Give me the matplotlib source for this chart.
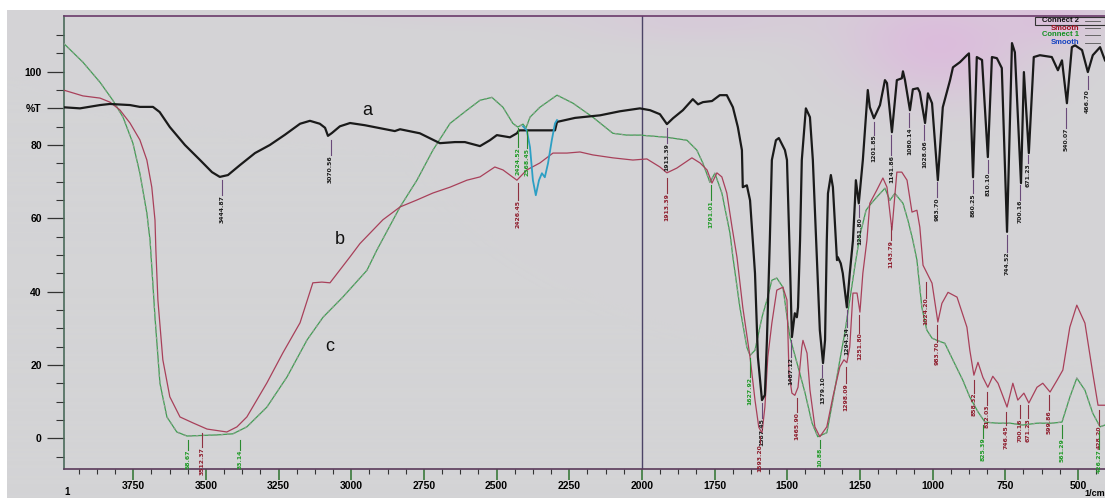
import numpy as np
import matplotlib.pyplot as plt

# curva a - Connect 2 (preta)
wn_a = [3990, 3933, 3864, 3830, 3761, 3727, 3682, 3659, 3624, 3572,
        3520, 3479, 3452, 3424, 3383, 3331, 3280, 3228, 3176, 3142,
        3108, 3090, 3080, 3066, 3039, 3004, 2953, 2901, 2850, 2832,
        2764, 2695, 2643, 2609, 2557, 2523, 2499, 2454, 2430, 2423,
        2299, 2292, 2230, 2144, 2076, 2007, 1972, 1938, 1914, 1893,
        1859, 1825, 1807, 1790, 1759, 1732, 1708, 1687, 1670, 1656,
        1653, 1639, 1628, 1611, 1601, 1587, 1577, 1570, 1560, 1553,
        1539, 1529, 1508, 1501, 1491, 1484, 1474, 1467, 1463, 1456,
        1450, 1436, 1422, 1412, 1398, 1388, 1377, 1370, 1364, 1360,
        1350, 1343, 1329, 1326, 1316, 1309, 1295, 1285, 1274, 1267,
        1264, 1254, 1240, 1223, 1216, 1202, 1181, 1164, 1157, 1140,
        1123, 1106, 1102, 1095, 1078, 1068, 1051, 1044, 1026, 1016,
        1002, 982, 965, 940, 930, 906, 882, 875, 861, 848,
        830, 810, 796, 779, 762, 744, 727, 717, 696, 686,
        669, 652, 631, 590, 569, 555, 538, 521, 510, 486,
        466, 449, 424, 407]
t_a = [90.3, 90.0, 90.9, 91.2, 90.9, 90.4, 90.4, 89.0, 84.9, 80.0,
       75.9, 72.6, 71.3, 71.8, 74.5, 77.8, 80.0, 82.8, 85.8, 86.6,
       85.8, 84.7, 82.5, 83.3, 85.1, 86.0, 85.4, 84.6, 83.8, 84.3,
       83.2, 80.5, 80.8, 80.8, 79.7, 81.3, 82.7, 82.1, 83.2, 84.0,
       84.0, 86.3, 87.4, 88.1, 89.2, 90.0, 89.5, 88.4, 85.7, 87.3,
       89.5, 92.5, 91.1, 91.7, 92.0, 93.6, 93.6, 90.3, 84.9, 78.6,
       68.5, 69.0, 64.9, 45.0, 22.1, 10.4, 11.8, 26.7, 54.0, 75.9,
       81.3, 81.9, 78.6, 75.9, 48.6, 27.6, 34.1, 33.0, 35.7, 54.0,
       75.9, 90.0, 87.6, 75.9, 48.6, 29.5, 20.5, 26.8, 54.0, 66.8,
       71.8, 68.5, 48.6, 49.4, 47.7, 45.0, 35.7, 45.0, 54.0, 64.9,
       70.4, 64.1, 75.9, 95.0, 90.3, 87.3, 90.9, 97.7, 96.9, 83.5,
       97.7, 98.2, 100.1, 97.7, 89.5, 95.2, 95.5, 94.4, 86.0, 94.1,
       91.4, 70.4, 90.3, 97.7, 101.2, 102.6, 104.5, 105.0, 71.2, 104.0,
       103.2, 76.7, 104.0, 103.7, 101.0, 56.3, 107.8, 105.3, 69.6, 99.9,
       77.8, 104.0, 104.5, 104.0, 100.4, 103.1, 91.4, 106.7, 107.2, 105.9,
       99.9, 104.5, 106.7, 103.1]

# curva b - Smooth (vermelha)
wn_b = [3990, 3923, 3864, 3830, 3796, 3761, 3727, 3703, 3686, 3675,
        3672, 3665, 3648, 3624, 3589, 3545, 3496, 3452, 3428, 3393,
        3359, 3290, 3235, 3176, 3132, 3101, 3073, 3004, 2970, 2891,
        2832, 2774, 2719, 2660, 2602, 2557, 2506, 2478, 2430, 2396,
        2351, 2306, 2258, 2213, 2169, 2100, 2031, 1983, 1938, 1914,
        1880, 1828, 1800, 1776, 1759, 1742, 1725, 1708, 1690, 1673,
        1653, 1628, 1611, 1598, 1587, 1577, 1567, 1553, 1536, 1515,
        1501, 1494, 1484, 1474, 1463, 1450, 1446, 1432, 1422, 1405,
        1388, 1364, 1343, 1319, 1305, 1295, 1285, 1274, 1260, 1250,
        1240, 1226, 1216, 1192, 1171, 1157, 1140, 1123, 1106, 1088,
        1071, 1054, 1044, 1033, 1016, 1002, 982, 968, 947, 916,
        882, 872, 858, 844, 827, 810, 793, 775, 744, 724,
        707, 686, 669, 641, 621, 596, 572, 552, 528, 504,
        476, 449, 431, 407]
t_b = [95.0, 93.4, 92.8, 91.7, 89.6, 86.0, 81.4, 75.9, 68.5, 59.5,
       51.4, 37.7, 21.4, 11.3, 5.8, 4.2, 2.5, 2.0, 1.7, 3.1,
       5.8, 15.1, 23.3, 31.5, 42.4, 42.6, 42.4, 49.5, 53.1, 59.6,
       63.1, 65.0, 66.9, 68.5, 70.4, 71.3, 74.0, 73.2, 70.4, 73.2,
       75.1, 77.8, 77.8, 78.1, 77.3, 76.5, 75.9, 76.2, 74.0, 72.4,
       73.7, 76.5, 75.1, 73.2, 69.6, 72.4, 71.3, 66.9, 57.6, 49.4,
       35.7, 22.1, 10.4, 3.0, 1.4, 8.5, 22.1, 31.4, 40.4, 41.2,
       37.7, 17.7, 12.3, 11.7, 13.9, 24.8, 26.7, 23.2, 13.2, 3.1,
       0.4, 3.1, 11.3, 19.5, 21.4, 20.6, 24.9, 39.6, 39.6, 34.4,
       45.0, 54.0, 64.1, 67.7, 71.0, 68.5, 56.8, 72.6, 72.6, 70.4,
       61.7, 62.2, 57.6, 47.2, 44.5, 42.3, 31.7, 36.8, 39.8, 38.5,
       30.3, 24.0, 17.2, 20.7, 16.6, 13.9, 16.9, 15.0, 8.5, 15.0,
       10.4, 12.3, 9.6, 13.9, 15.0, 12.6, 15.8, 18.6, 30.3, 36.3,
       31.4, 17.7, 9.0, 9.0]

# curva c - Connect 1 (verde)
wn_c = [3990, 3923, 3864, 3820, 3785, 3751, 3727, 3703, 3692, 3686,
        3675, 3658, 3634, 3600, 3565, 3462, 3407, 3359, 3290, 3221,
        3152, 3097, 3029, 2946, 2912, 2832, 2774, 2719, 2660, 2602,
        2557, 2516, 2478, 2444, 2427, 2409, 2399, 2385, 2351, 2292,
        2237, 2169, 2100, 2052, 2007, 1914, 1845, 1811, 1790, 1766,
        1749, 1725, 1697, 1687, 1663, 1639, 1628, 1611, 1587, 1570,
        1553, 1536, 1515, 1491, 1463, 1439, 1415, 1395, 1364, 1343,
        1319, 1302, 1285, 1267, 1250, 1229, 1216, 1192, 1164, 1147,
        1130, 1102, 1085, 1068, 1054, 1037, 1020, 1002, 985, 958,
        930, 896, 872, 844, 820, 779, 734, 689, 641, 590,
        555, 528, 504, 476, 449, 424, 407]
t_c = [107.8, 102.6, 97.1, 92.2, 87.6, 80.5, 72.3, 61.4, 54.0, 46.7,
       33.0, 15.0, 5.8, 1.7, 0.6, 0.9, 1.2, 3.1, 8.5, 16.7,
       26.8, 33.0, 38.5, 45.8, 51.3, 63.1, 70.4, 78.6, 85.9, 89.5,
       92.2, 93.0, 90.3, 85.9, 84.9, 85.7, 84.6, 87.6, 90.3, 93.6,
       91.4, 87.6, 83.2, 82.7, 82.7, 82.1, 81.3, 78.6, 75.0, 69.8,
       72.3, 66.9, 55.9, 49.4, 35.7, 24.8, 22.6, 24.0, 33.0, 37.7,
       43.1, 43.7, 41.2, 27.6, 19.5, 12.4, 4.2, 0.4, 1.5, 10.4,
       21.4, 28.7, 37.7, 47.2, 55.4, 62.2, 63.6, 65.8, 68.2, 64.9,
       66.8, 64.1, 59.5, 54.0, 48.6, 35.7, 29.5, 27.3, 26.7, 25.9,
       21.3, 15.8, 11.2, 7.2, 4.4, 4.1, 4.1, 3.6, 4.1, 4.1,
       4.4, 11.2, 16.4, 13.1, 6.8, 3.1, 3.6]

# trecho Smooth (azul)
wn_d = [2409, 2396, 2385, 2375, 2365, 2354, 2344, 2334, 2323, 2310, 2299, 2292]
t_d = [85.1, 84.0, 79.4, 70.4, 66.3, 70.4, 72.3, 71.2, 75.0, 81.3, 85.9, 86.8]

# picos marcados: (texto, numero de onda, inicio do traco, fim do traco)
picos_a = [("3444.87", 3445, 70.5, 66.4), ("3070.56", 3071, 81.4, 77.3),
           ("1913.39", 1913, 84.7, 80.6), ("1587.45", 1587, 9.6, 5.5),
           ("1487.12", 1487, 26.8, 22.2), ("1379.10", 1379, 20.0, 16.8),
           ("1294.34", 1294, 35.0, 30.4), ("1251.80", 1252, 63.7, 60.4),
           ("1201.85", 1202, 86.2, 82.8), ("1141.86", 1142, 82.8, 77.3),
           ("1080.14", 1080, 88.8, 84.9), ("1028.06", 1028, 85.5, 81.4),
           ("983.70", 984, 69.9, 65.8), ("860.25", 860, 70.5, 66.9),
           ("810.10", 810, 75.9, 72.4), ("744.52", 745, 55.4, 50.9),
           ("700.16", 700, 69.1, 65.0), ("671.23", 671, 77.3, 75.1),
           ("540.07", 540, 90.1, 84.7), ("466.70", 467, 98.8, 95.3)]
picos_b = [("3512.37", 3512, 1.5, -2.4), ("2426.45", 2426, 69.7, 65.0),
           ("1913.39", 1913, 71.0, 66.9), ("1593.20", 1593, 0.6, -1.6),
           ("1465.90", 1466, 11.0, 7.2), ("1298.09", 1298, 19.5, 15.1),
           ("1251.80", 1252, 33.6, 28.8), ("1143.79", 1144, 58.0, 54.0),
           ("1024.20", 1024, 42.6, 38.3), ("983.70", 984, 31.0, 26.3),
           ("858.32", 858, 15.9, 12.4), ("812.03", 812, 12.7, 9.1),
           ("746.45", 746, 7.2, 3.6), ("700.16", 700, 9.1, 5.5),
           ("671.23", 671, 9.1, 5.5), ("599.86", 599, 11.8, 7.7),
           ("428.20", 428, 7.7, 3.6)]
picos_c = [("58.67", 3560, -0.5, -3.2), ("33.14", 3383, -0.5, -3.2),
           ("2424.52", 2425, 84.7, 79.5), ("2368.45", 2396, 84.1, 79.2),
           ("1791.01", 1762, 69.0, 65.0), ("1627.92", 1628, 21.8, 16.8),
           ("10.88", 1388, -0.5, -2.6), ("825.39", 827, 3.6, 0.1),
           ("561.29", 555, 3.6, 0.1), ("426.27", 426, 2.0, -3.0)]

W, H = 1105, 498
fig = plt.figure(figsize=(W / 100, H / 100), dpi=100)
fig.patch.set_facecolor("white")

# fundo cinza com manchas rosadas (papel escaneado)
bg = fig.add_axes([7 / W, 0, 1 - 7 / W, 488 / H], zorder=0)
yy, xx = np.mgrid[0:488, 0:1098]
xx = xx + 7
yy = yy + 10
mask = (0.75 * np.exp(-((xx - 940) / 95.0) ** 2 - ((yy - 45) / 55.0) ** 2)
        + 0.5 * np.exp(-((xx - 1060) / 50.0) ** 2 - ((yy - 15) / 30.0) ** 2)
        + 0.3 * np.exp(-((xx - 700) / 130.0) ** 2 - ((yy - 20) / 25.0) ** 2)
        + 0.2 * np.exp(-((xx - 450) / 100.0) ** 2 - ((yy - 10) / 15.0) ** 2))
mask = np.clip(mask, 0, 1)[..., None]
cinza = np.array([212, 212, 214]) / 255
rosa = np.array([222, 182, 222]) / 255
img = cinza * (1 - mask) + rosa * mask
bg.imshow(img, aspect="auto", extent=[0, 1, 0, 1], origin="upper")
bg.axis("off")

ax = fig.add_axes([64 / W, 29 / H, (W - 64) / W, (469 - 16) / H], zorder=1)
ax.set_facecolor("none")

ax.plot(wn_c, t_c, color="#3f9f52", lw=0.9, zorder=3)
ax.plot(wn_c, t_c, color="#8f9a8f", lw=0.9, dashes=(2, 3), zorder=3)
ax.plot(wn_b, t_b, color="#a8405a", lw=0.9, zorder=4)
ax.plot(wn_a, t_a, color="#1a1a1a", lw=1.6, zorder=5)
ax.plot(wn_d, t_d, color="#2c9fc4", lw=1.3, zorder=6)

ax.axvline(2000, color="#4c4466", lw=1.0, zorder=2)

fonte_pico = dict(family=["Liberation Sans Narrow", "DejaVu Sans"], fontsize=4.4,
                  fontweight="bold", rotation=90, ha="center", va="top", zorder=7)
for picos, cor_txt, cor_traco in [(picos_a, "#1e1e1e", "#6a4a7a"),
                                 (picos_b, "#8e1c2c", "#8e3040"),
                                 (picos_c, "#1f9a26", "#2a8a30")]:
    for txt, x, y0, y1 in picos:
        ax.plot([x, x], [y0, y1], color=cor_traco, lw=0.8, zorder=7)
        ax.text(x, y1, txt, color=cor_txt, **fonte_pico)

for letra, x, y in [("a", 2946, 89.5), ("b", 3039, 54.1), ("c", 3073, 25.0)]:
    ax.text(x, y, letra, fontsize=13, family="Liberation Sans",
            ha="center", va="center", color="#111111", zorder=8)

ax.set_xlim(3988, 407)
ax.set_ylim(-8.4, 115.2)

ax.set_xticks(np.arange(3750, 400, -250))
ax.set_xticklabels([str(v) for v in range(3750, 400, -250)],
                   fontweight="bold", fontsize=7.5, family="Liberation Sans")
ax.set_xticks(np.arange(3937.5, 400, -62.5), minor=True)
ax.set_yticks([0, 20, 40, 60, 80, 90, 100])
ax.set_yticklabels(["0", "20", "40", "60", "80", "%T", "100"],
                   fontweight="bold", fontsize=7.5, family="Liberation Sans")
ax.set_yticks(np.arange(-5, 115, 5), minor=True)
ax.tick_params(axis="x", which="major", direction="out", length=8, width=1.2,
               color="#3a7a3a", pad=0.5)
ax.tick_params(axis="x", which="minor", direction="out", length=3.5, width=0.8,
               color="#333333")
ax.tick_params(axis="y", which="major", direction="out", length=12, width=0.9,
               color="#333333", pad=4)
ax.tick_params(axis="y", which="minor", direction="out", length=6, width=0.8,
               color="#333333")

ax.spines["right"].set_visible(False)
ax.spines["top"].set_color("#6a3a6a")
ax.spines["left"].set_color("#4a6a5a")
ax.spines["bottom"].set_color("#5a3a5a")
for s in ["top", "left", "bottom"]:
    ax.spines[s].set_linewidth(1.2)

# legenda do programa
leg = [("Connect 2", "#111111", 21), ("Smooth", "#a01020", 28),
       ("Connect 1", "#109020", 35), ("Smooth", "#1040c0", 43)]
for txt, cor, ypx in leg:
    fig.text(1079 / W, 1 - ypx / H, txt, color=cor, fontsize=5.5, fontweight="bold",
             ha="right", va="center", family="Liberation Sans", zorder=9)
    fig.lines.append(plt.Line2D([1085 / W, 1100 / W], [1 - ypx / H, 1 - ypx / H],
                                transform=fig.transFigure, color="#555555", lw=0.6,
                                zorder=9))
fig.patches.append(plt.Rectangle((1035 / W, 1 - 25 / H), 70 / W, 8 / H,
                                 transform=fig.transFigure, fill=False,
                                 edgecolor="#333333", lw=0.8, zorder=9))

fig.text(67 / W, 1 - 492 / H, "1", fontsize=7, fontweight="bold",
         ha="center", va="center", family="Liberation Sans")
fig.text(1105 / W, 1 - 493 / H, "1/cm", fontsize=6.5, fontweight="bold",
         ha="right", va="center", family="Liberation Sans")

fig.savefig("out.png", dpi=100)
